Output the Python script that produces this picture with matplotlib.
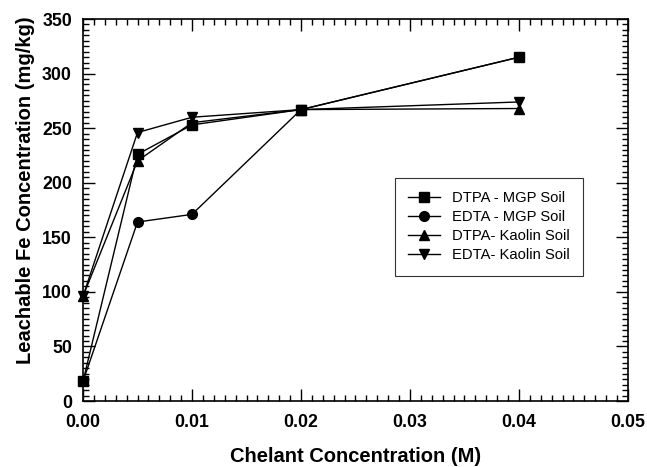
import matplotlib
matplotlib.use("Agg")
import matplotlib.pyplot as plt
from matplotlib.ticker import MultipleLocator, FormatStrFormatter

plt.rcParams['font.family'] = ['Liberation Sans', 'DejaVu Sans']

x = [0.0, 0.005, 0.01, 0.02, 0.04]
dtpa_mgp = [18, 226, 253, 267, 315]
edta_mgp = [18, 164, 171, 267, 315]
dtpa_kaolin = [96, 220, 255, 267, 268]
edta_kaolin = [96, 246, 260, 267, 274]
labels = ['DTPA - MGP Soil', 'EDTA - MGP Soil', 'DTPA- Kaolin Soil', 'EDTA- Kaolin Soil']

fig = plt.figure(figsize=(6.47, 4.67), dpi=100)
ax = fig.add_axes([0.1283, 0.1413, 0.8423, 0.818])

series = [dtpa_mgp, edta_mgp, dtpa_kaolin, edta_kaolin]
markers = ['s', 'o', '^', 'v']
for ys, m, lab in zip(series, markers, labels):
    ax.plot(x, ys, color='black', lw=1.0, marker=m, markersize=7, label=lab, clip_on=False)

ax.set_xlim(0, 0.05)
ax.set_ylim(0, 350)
ax.xaxis.set_major_locator(MultipleLocator(0.01))
ax.xaxis.set_minor_locator(MultipleLocator(0.001))
ax.yaxis.set_major_locator(MultipleLocator(50))
ax.yaxis.set_minor_locator(MultipleLocator(5))
ax.xaxis.set_major_formatter(FormatStrFormatter('%.2f'))
ax.tick_params(which='both', direction='in', top=True, right=True, width=1.0)
ax.tick_params(which='major', length=8.5, labelsize=12.8)
ax.tick_params(which='minor', length=4.5)
ax.tick_params(axis='x', which='major', pad=9)
ax.tick_params(axis='y', which='major', pad=8)
for lab in ax.get_xticklabels() + ax.get_yticklabels():
    lab.set_fontweight('bold')
for s in ax.spines.values():
    s.set_linewidth(1.2)

ax.set_xlabel('Chelant Concentration (M)', fontsize=14.5, fontweight='bold', labelpad=12)
ax.set_ylabel('Leachable Fe Concentration (mg/kg)', fontsize=14.5, fontweight='bold')
ax.yaxis.set_label_coords(-0.088, 0.552)

leg = ax.legend(loc='lower left', bbox_to_anchor=(0.572, 0.328), fontsize=10.6,
                frameon=True, fancybox=False, edgecolor='black', handlelength=2.2,
                handletextpad=0.8, borderpad=0.9, labelspacing=0.35, borderaxespad=0)
leg.get_frame().set_linewidth(0.8)

fig.savefig('out.png', dpi=100)
